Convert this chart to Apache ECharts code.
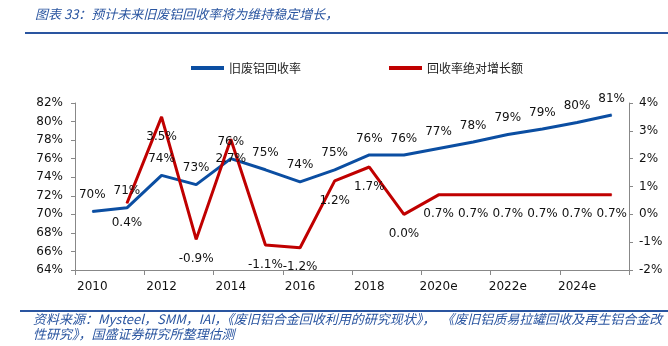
<!DOCTYPE html>
<html>
<head>
<meta charset="utf-8">
<script src="https://cdn.jsdelivr.net/npm/echarts@6/dist/echarts.min.js"></script>
<style>
  html, body { margin: 0; padding: 0; background: #fff; }
  #chart { width: 668px; height: 346px; }
</style>
</head>
<body>
<div id="chart"></div>
<script>
// Years on the category axis (e = estimate)
const years = ['2010', '2011', '2012', '2013', '2014', '2015', '2016', '2017',
  '2018', '2019', '2020e', '2021e', '2022e', '2023e', '2024e', '2025e'];
// Scrap aluminium recovery rate, %
const recoveryRate = [70.3, 70.7, 74.2, 73.2, 76.0, 74.8, 73.5, 74.8,
  76.4, 76.4, 77.1, 77.8, 78.6, 79.2, 79.9, 80.7];
// Absolute yearly change of the recovery rate, percentage points
const rateChange = [null, 0.4, 3.5, -0.9, 2.7, -1.1, -1.2, 1.2,
  1.7, 0.0, 0.7, 0.7, 0.7, 0.7, 0.7, 0.7];

const titleText = '图表 33：预计未来旧废铝回收率将为维持稳定增长，';
const sourceLine1 = '资料来源：Mysteel，SMM，IAI，《废旧铝合金回收利用的研究现状》，  《废旧铝质易拉罐回收及再生铝合金改';
const sourceLine2 = '性研究》，国盛证券研究所整理估测';

const BLUE = '#0b4ea2';
const RED = '#c00000';
const HEAD = '#2a55a0';
const axisFont = 'DejaVu Sans';
const cjkFont = 'Noto Sans CJK SC';

const chart = echarts.init(document.getElementById('chart'), null, { renderer: 'canvas' });

chart.setOption({
  animation: false,
  backgroundColor: '#fff',
  grid: { left: 75, right: 39, top: 103, bottom: 76 },
  legend: {
    top: 57,
    left: 186,
    itemWidth: 33,
    itemHeight: 4,
    itemGap: 88,
    icon: 'rect',
    textStyle: { fontFamily: cjkFont, fontSize: 12, color: '#222' },
    data: ['旧废铝回收率', '回收率绝对增长额']
  },
  xAxis: {
    type: 'category',
    data: years,
    boundaryGap: true,
    axisLine: { onZero: false, lineStyle: { color: '#888', width: 1 } },
    axisTick: { show: true, length: 5, lineStyle: { color: '#888' } },
    axisLabel: {
      interval: 1,
      margin: 11,
      fontFamily: axisFont,
      fontSize: 12,
      color: '#111'
    }
  },
  yAxis: [
    {
      type: 'value',
      min: 64, max: 82, interval: 2,
      axisLine: { show: true, lineStyle: { color: '#888' } },
      axisTick: { show: true, length: 4, lineStyle: { color: '#888' } },
      splitLine: { show: false },
      axisLabel: {
        margin: 12,
        fontFamily: axisFont, fontSize: 12, color: '#111',
        formatter: v => v + '%'
      }
    },
    {
      type: 'value',
      min: -2, max: 4, interval: 1,
      position: 'right',
      axisLine: { show: true, lineStyle: { color: '#888' } },
      axisTick: { show: true, length: 4, lineStyle: { color: '#888' } },
      splitLine: { show: false },
      axisLabel: {
        margin: 10,
        fontFamily: axisFont, fontSize: 12, color: '#111',
        formatter: v => v + '%'
      }
    }
  ],
  series: [
    {
      name: '旧废铝回收率',
      type: 'line',
      yAxisIndex: 0,
      data: recoveryRate,
      symbol: 'circle',
      symbolSize: 1,
      itemStyle: { color: BLUE },
      lineStyle: { color: BLUE, width: 3 },
      label: {
        show: true,
        position: 'top',
        distance: 10,
        fontFamily: axisFont,
        fontSize: 12,
        color: '#111',
        formatter: p => Math.round(p.value) + '%'
      }
    },
    {
      name: '回收率绝对增长额',
      type: 'line',
      yAxisIndex: 1,
      data: rateChange,
      symbol: 'circle',
      symbolSize: 1,
      itemStyle: { color: RED },
      lineStyle: { color: RED, width: 3 },
      label: {
        show: true,
        position: 'bottom',
        distance: 13,
        fontFamily: axisFont,
        fontSize: 12,
        color: '#111',
        formatter: p => p.value.toFixed(1) + '%'
      }
    }
  ],
  graphic: [
    {
      type: 'text', left: 35, top: 8,
      style: {
        text: titleText,
        font: 'italic 13px "' + cjkFont + '"',
        fill: HEAD
      }
    },
    {
      type: 'line',
      shape: { x1: 25, y1: 33, x2: 668, y2: 33 },
      style: { stroke: HEAD, lineWidth: 2 }
    },
    {
      type: 'line',
      shape: { x1: 20, y1: 311, x2: 668, y2: 311 },
      style: { stroke: HEAD, lineWidth: 2 }
    },
    {
      type: 'text', left: 33, top: 313,
      style: {
        text: sourceLine1,
        font: 'italic 13px "' + cjkFont + '"',
        fill: HEAD
      }
    },
    {
      type: 'text', left: 33, top: 328,
      style: {
        text: sourceLine2,
        font: 'italic 13px "' + cjkFont + '"',
        fill: HEAD
      }
    }
  ]
});
</script>
</body>
</html>
